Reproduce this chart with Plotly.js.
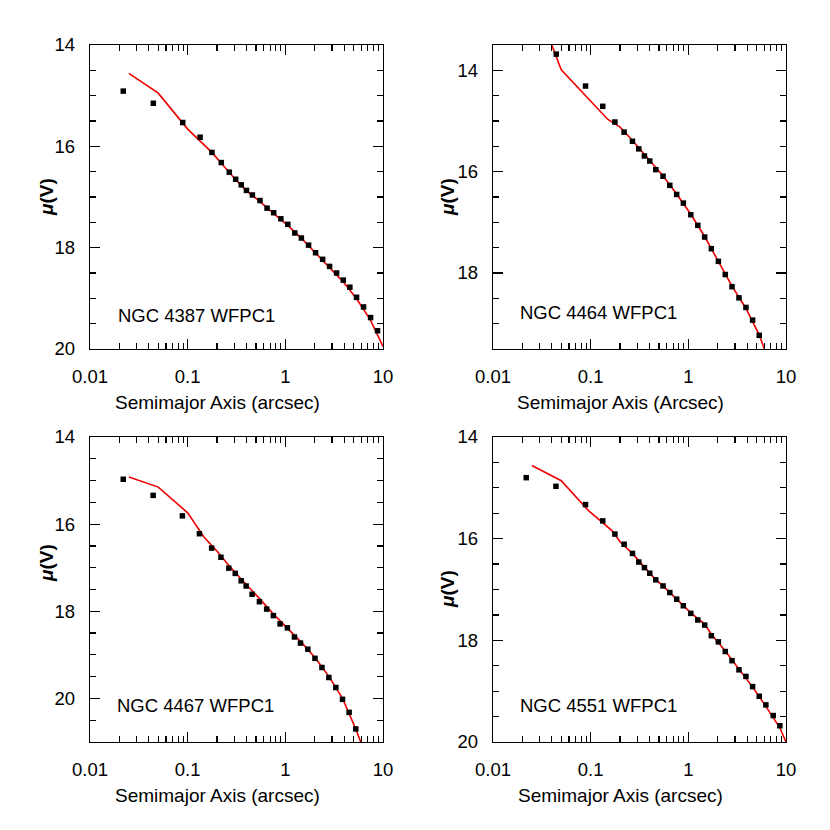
<!DOCTYPE html>
<html>
<head>
<meta charset="utf-8">
<script src="https://cdn.plot.ly/plotly-3.0.1.min.js"></script>
<style>html,body{margin:0;padding:0;background:#fff;}#chart{width:830px;height:830px;}</style>
</head>
<body>
<div id="chart"></div>
<script>
// ---- Data ----
// NGC 4387
const r4387 = [0.0219,0.0445,0.089,0.134,0.177,0.221,0.267,0.31,0.354,0.40,0.46,0.55,0.65,0.76,0.90,1.06,1.25,1.46,1.73,2.04,2.41,2.84,3.35,3.92,4.58,5.36,6.32,7.46,8.79];
const mu4387 = [14.91,15.15,15.53,15.82,16.12,16.32,16.51,16.65,16.76,16.87,16.96,17.07,17.22,17.31,17.43,17.54,17.71,17.81,17.95,18.10,18.23,18.37,18.50,18.64,18.78,18.98,19.17,19.38,19.64];
const rm4387 = [0.025,0.05,0.1,0.133,0.177,0.22,0.31,0.40,0.55,0.76,1.06,1.47,2.03,2.80,3.89,5.32,7.40,10];
const mm4387 = [14.56,14.95,15.66,15.88,16.12,16.33,16.66,16.88,17.09,17.33,17.56,17.82,18.10,18.38,18.67,19.00,19.42,19.95];

// NGC 4464
const r4464 = [0.0444,0.0886,0.133,0.177,0.220,0.268,0.311,0.355,0.403,0.464,0.551,0.646,0.760,0.889,1.06,1.25,1.47,1.72,2.03,2.39,2.80,3.30,3.89,4.55,5.32];
const mu4464 = [13.68,14.31,14.71,15.02,15.22,15.40,15.55,15.69,15.79,15.96,16.09,16.27,16.45,16.62,16.85,17.06,17.29,17.52,17.77,18.03,18.27,18.49,18.68,18.93,19.23];
const rm4464 = [0.025,0.05,0.15,0.20,0.25,0.31,0.40,0.55,0.76,1.06,1.47,2.03,2.80,3.89,5.32,6.0];
const mm4464 = [12.47,13.99,14.97,15.12,15.32,15.53,15.78,16.08,16.44,16.84,17.28,17.76,18.26,18.70,19.22,19.50];

// NGC 4467
const r4467 = [0.0219,0.0443,0.0883,0.132,0.176,0.219,0.264,0.307,0.353,0.397,0.457,0.543,0.644,0.755,0.883,1.05,1.24,1.43,1.70,2.01,2.37,2.79,3.29,3.85,4.50,5.26];
const mu4467 = [14.97,15.34,15.81,16.22,16.55,16.76,17.01,17.13,17.30,17.42,17.61,17.78,17.95,18.10,18.29,18.38,18.59,18.73,18.87,19.08,19.29,19.52,19.75,20.02,20.32,20.70];
const rm4467 = [0.025,0.05,0.1,0.146,0.2,0.264,0.353,0.46,0.55,0.76,1.06,1.47,2.03,2.80,3.85,4.50,5.26,5.92];
const mm4467 = [14.92,15.15,15.74,16.29,16.62,16.95,17.26,17.55,17.72,18.07,18.40,18.72,19.07,19.50,20.00,20.33,20.70,21.00];

// NGC 4551
const r4551 = [0.0219,0.0441,0.0886,0.133,0.177,0.220,0.268,0.311,0.355,0.403,0.464,0.551,0.646,0.760,0.889,1.06,1.25,1.47,1.72,2.03,2.39,2.80,3.30,3.89,4.55,5.32,6.22,7.40,8.65];
const mu4551 = [14.80,14.97,15.33,15.65,15.91,16.11,16.29,16.46,16.57,16.68,16.81,16.93,17.06,17.19,17.32,17.47,17.60,17.70,17.91,18.03,18.22,18.40,18.58,18.71,18.91,19.10,19.27,19.48,19.68];
const rm4551 = [0.025,0.05,0.095,0.165,0.20,0.27,0.355,0.46,0.55,0.76,1.06,1.47,1.72,2.39,3.30,4.55,6.22,8.65,10];
const mm4551 = [14.56,14.86,15.45,15.84,16.06,16.30,16.56,16.80,16.93,17.19,17.46,17.68,17.88,18.21,18.57,18.92,19.30,19.72,20.00];

const labels = ["NGC 4387 WFPC1","NGC 4464 WFPC1","NGC 4467 WFPC1","NGC 4551 WFPC1"];
const xTitles = ["Semimajor Axis (arcsec)","Semimajor Axis (Arcsec)","Semimajor Axis (arcsec)","Semimajor Axis (arcsec)"];
const yRanges = [[20,14],[19.5,13.5],[21,14],[20,14]];
const xTickVals = [0.01,0.1,1,10];
const xTickText = ["0.01","0.1","1","10"];

// ---- Layout helpers ----
const W = 830;
const FONT = "Liberation Sans, Arial, Helvetica, sans-serif";
const xDom = [[90/W,383/W],[493/W,786/W],[90/W,383/W],[493/W,786/W]];
const yDom = [[1-349/W,1-45/W],[1-349/W,1-45/W],[1-742/W,1-437/W],[1-742/W,1-437/W]];
const minorX = [];
[0.01,0.1,1].forEach(d => { for (let k=2;k<=9;k++) minorX.push(+(d*k).toPrecision(3)); });

const pts = [[r4387,mu4387],[r4464,mu4464],[r4467,mu4467],[r4551,mu4551]];
const mdl = [[rm4387,mm4387],[rm4464,mm4464],[rm4467,mm4467],[rm4551,mm4551]];

const data = [];
const layout = {
  width: 830, height: 830,
  margin: {l:0, r:0, t:0, b:0},
  paper_bgcolor: "#fff", plot_bgcolor: "#fff",
  showlegend: false,
  font: {family: FONT, size: 18, color: "#000"},
  annotations: []
};

for (let i=0;i<4;i++) {
  const s = i===0 ? "" : String(i+1);
  data.push({
    x: mdl[i][0], y: mdl[i][1], xaxis: "x"+s, yaxis: "y"+s,
    type: "scatter", mode: "lines",
    line: {color: "#ee0000", width: 1.6}, hoverinfo: "skip"
  });
  data.push({
    x: pts[i][0], y: pts[i][1], xaxis: "x"+s, yaxis: "y"+s,
    type: "scatter", mode: "markers",
    marker: {symbol: "square", size: 5.5, color: "#000"}
  });
  layout["xaxis"+s] = {
    domain: xDom[i], anchor: "y"+s, type: "log", range: [-2, 1],
    tickmode: "array", tickvals: xTickVals, ticktext: xTickText,
    ticks: "inside", ticklen: 10, tickwidth: 1.2, tickcolor: "#000",
    minor: {tickmode: "array", tickvals: minorX, ticks: "inside", ticklen: 6, tickwidth: 1.2, tickcolor: "#000", showgrid: false},
    showline: true, linecolor: "#000", linewidth: 1.3, mirror: "allticks",
    showgrid: false, zeroline: false,
    tickfont: {family: FONT, size: 18.5, color: "#000"},
    ticklabelstandoff: 10
  };
  layout["yaxis"+s] = {
    domain: yDom[i], anchor: "x"+s, range: yRanges[i],
    tickmode: "linear", tick0: 0, dtick: 2,
    ticks: "inside", ticklen: 10, tickwidth: 1.2, tickcolor: "#000",
    minor: {dtick: 0.5, tick0: 0, ticks: "inside", ticklen: 6, tickwidth: 1.2, tickcolor: "#000", showgrid: false},
    showline: true, linecolor: "#000", linewidth: 1.3, mirror: "allticks",
    showgrid: false, zeroline: false,
    tickfont: {family: FONT, size: 18.5, color: "#000"},
    ticklabelstandoff: 10
  };
}

// galaxy labels (paper coordinates)
const labPos = [[116,315],[518,312],[115,705],[518,705]];
labPos.forEach((p,i) => layout.annotations.push({
  xref: "paper", yref: "paper", x: p[0]/W, y: 1-p[1]/W,
  xanchor: "left", yanchor: "middle", showarrow: false,
  text: labels[i], font: {family: FONT, size: 18.5, color: "#000"}
}));
// x-axis titles
const xTitlePos = [[217,402],[620,402],[217,795],[620,795]];
xTitlePos.forEach((p,i) => layout.annotations.push({
  xref: "paper", yref: "paper", x: p[0]/W, y: 1-p[1]/W,
  xanchor: "center", yanchor: "middle", showarrow: false,
  text: xTitles[i], font: {family: FONT, size: 19, color: "#000"}
}));
// y-axis titles
const yTitlePos = [[46,197],[447,197],[46,563],[447,589]];
yTitlePos.forEach(p => layout.annotations.push({
  xref: "paper", yref: "paper", x: p[0]/W, y: 1-p[1]/W,
  xanchor: "center", yanchor: "middle", showarrow: false, textangle: -90,
  text: "<b><i>μ</i>(V)</b>", font: {family: FONT, size: 19, color: "#000"}
}));

Plotly.newPlot("chart", data, layout, {staticPlot: true, displayModeBar: false});
</script>
</body>
</html>
